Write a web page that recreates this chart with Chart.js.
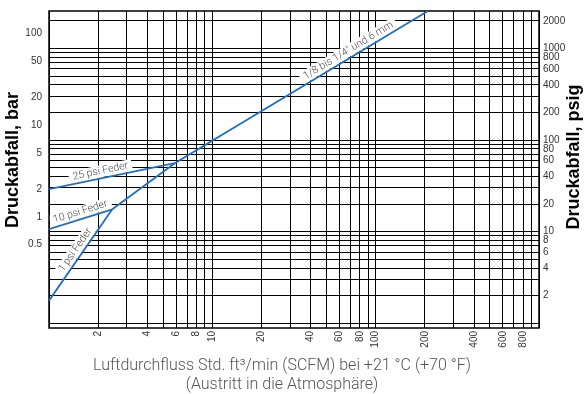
<!DOCTYPE html>
<html>
<head>
<meta charset="utf-8">
<script src="https://cdn.jsdelivr.net/npm/chart.js@4"></script>
<style>
  body { margin: 0; background: #fff; }
  canvas { display: block; }
</style>
</head>
<body>
<canvas id="chart" width="587" height="394"></canvas>
<script>
// flow in SCFM, pressure drop in bar
const mainFlow = [2.44, 5.89, 209];
const mainDrop = [1.21, 3.86, 176.8];
const spring1Flow = [1, 2.44];
const spring1Drop = [0.122, 1.21];
const spring10Flow = [1, 2.44];
const spring10Drop = [0.736, 1.21];
const spring25Flow = [1, 5.89];
const spring25Drop = [2.01, 3.86];
const lineNames = ['1/8 bis 1/4" und 6 mm', '1 psi Feder', '10 psi Feder', '25 psi Feder'];

const flowLabels = [2, 4, 6, 8, 10, 20, 40, 60, 80, 100, 200, 400, 600, 800];
const barLabels = [0.5, 1, 2, 5, 10, 20, 50, 100];
const psigLabels = [2, 4, 6, 8, 10, 20, 40, 60, 80, 100, 200, 400, 600, 800, 1000, 2000];
const xTitle = ['Luftdurchfluss Std. ft³/min (SCFM) bei +21 °C (+70 °F)', '(Austritt in die Atmosphäre)'];

const PSI_PER_BAR = 14.5038;
const barMin = 0.0613;
const barMax = 176.85;

const blue = '#1f6fc0';
const tickFont = {family: 'Liberation Sans', size: 10};

function logGrid(from, to) {
    const out = [];
    for (let e = 0; e <= 3; e++) {
        for (let d = 1; d <= 9; d++) {
            const v = d * Math.pow(10, e);
            if (v >= from && v <= to) out.push(v);
        }
    }
    return out;
}

function series(name, xs, ys) {
    return {
        label: name,
        data: xs.map((x, i) => ({x: x, y: ys[i]})),
        borderColor: blue,
        borderWidth: 1.8,
        pointRadius: 0,
        fill: false,
        tension: 0,
        yAxisID: 'y'
    };
}

// where each line label sits: dataset, segment, fraction along it
const labelSpots = [
    {ds: 0, seg: 1, t: 0.70},
    {ds: 1, seg: 0, t: 0.51},
    {ds: 2, seg: 0, t: 0.53},
    {ds: 3, seg: 0, t: 0.42}
];

const extras = {
    id: 'extras',
    beforeDatasetsDraw(chart) {
        const ctx = chart.ctx;
        const a = chart.chartArea;
        ctx.save();
        ctx.font = '300 10.5px Roboto';
        ctx.textAlign = 'center';
        ctx.textBaseline = 'middle';
        labelSpots.forEach((p, i) => {
            const pts = chart.getDatasetMeta(p.ds).data;
            const p0 = pts[p.seg], p1 = pts[p.seg + 1];
            const ang = Math.atan2(p1.y - p0.y, p1.x - p0.x);
            const cx = p0.x + (p1.x - p0.x) * p.t + Math.sin(ang) * 7;
            const cy = p0.y + (p1.y - p0.y) * p.t - Math.cos(ang) * 7;
            const w = ctx.measureText(lineNames[i]).width;
            ctx.save();
            ctx.translate(cx, cy);
            ctx.rotate(ang);
            ctx.fillStyle = '#fff';
            ctx.fillRect(-w / 2 - 4, -6, w + 8, 12);
            ctx.fillStyle = '#4a4a4a';
            ctx.fillText(lineNames[i], 0, 0);
            ctx.restore();
        });
        ctx.strokeStyle = '#000';
        ctx.lineWidth = 1.5;
        ctx.strokeRect(a.left, a.top, a.right - a.left, a.bottom - a.top);
        ctx.restore();
    },
    afterDraw(chart) {
        const ctx = chart.ctx;
        const a = chart.chartArea;
        ctx.save();
        ctx.font = 'bold 18px "Liberation Sans"';
        ctx.fillStyle = '#000';
        ctx.textAlign = 'center';
        ctx.textBaseline = 'middle';
        [[13, a.top + 149, 'Druckabfall, bar'], [chart.width - 13, a.top + 146, 'Druckabfall, psig']].forEach(t => {
            ctx.save();
            ctx.translate(t[0], t[1]);
            ctx.rotate(-Math.PI / 2);
            ctx.fillText(t[2], 0, 0);
            ctx.restore();
        });
        // x axis title, sits a bit left of the plot centre
        ctx.font = '300 16px Roboto';
        ctx.fillStyle = '#555';
        xTitle.forEach((line, i) => {
            ctx.fillText(line, a.left + 233, a.bottom + 38 + i * 18.5);
        });
        ctx.restore();
    }
};

const config = {
    type: 'line',
    data: {
        datasets: [
            series(lineNames[0], mainFlow, mainDrop),
            series(lineNames[1], spring1Flow, spring1Drop),
            series(lineNames[2], spring10Flow, spring10Drop),
            series(lineNames[3], spring25Flow, spring25Drop)
        ]
    },
    options: {
        responsive: false,
        animation: false,
        layout: {padding: {top: 11, left: 0, right: 0, bottom: 0}},
        plugins: {legend: {display: false}, tooltip: {enabled: false}},
        scales: {
            x: {
                type: 'logarithmic',
                min: 1,
                max: 1000,
                afterBuildTicks: s => { s.ticks = logGrid(1, 1000).map(v => ({value: v})); },
                afterFit: s => { s.height = 66; s.paddingLeft = 0; s.paddingRight = 0; },
                ticks: {
                    autoSkip: false, minRotation: 90, maxRotation: 90, padding: 3,
                    color: '#333', font: tickFont,
                    callback: v => flowLabels.includes(v) ? String(v) : ''
                },
                grid: {color: '#000', lineWidth: 1, drawTicks: false},
                border: {display: false}
            },
            y: {
                type: 'logarithmic',
                position: 'left',
                min: barMin,
                max: barMax,
                afterBuildTicks: s => { s.ticks = barLabels.map(v => ({value: v})); },
                afterFit: s => { s.width = 49; s.paddingTop = 0; s.paddingBottom = 0; },
                ticks: {autoSkip: false, padding: 7, color: '#333', font: tickFont, callback: v => String(v)},
                grid: {display: false, drawTicks: false},
                border: {display: false}
            },
            y2: {
                type: 'logarithmic',
                position: 'right',
                min: barMin * PSI_PER_BAR,
                max: barMax * PSI_PER_BAR,
                afterBuildTicks: s => { s.ticks = logGrid(1, 2000).map(v => ({value: v})); },
                afterFit: s => { s.width = 48; s.paddingTop = 0; s.paddingBottom = 0; },
                ticks: {
                    autoSkip: false, padding: 4, color: '#333', font: tickFont,
                    callback: v => psigLabels.includes(v) ? String(v) : ''
                },
                grid: {color: '#000', lineWidth: 1, drawTicks: false},
                border: {display: false}
            }
        }
    },
    plugins: [extras]
};

const myChart = new Chart(document.getElementById('chart'), config);
</script>
</body>
</html>
